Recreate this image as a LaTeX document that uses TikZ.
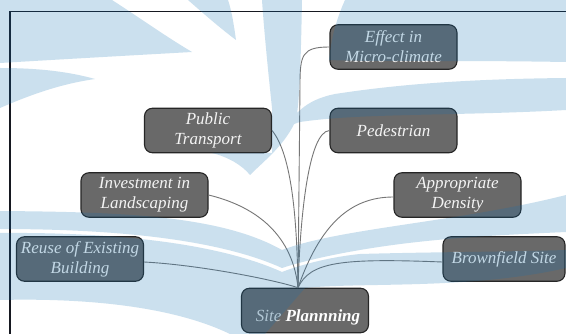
\documentclass[tikz,border=0pt]{standalone}
\usepackage{fontspec}
\setmainfont{Liberation Serif}
\definecolor{boxfill}{RGB}{105,105,105}
\definecolor{boxline}{RGB}{38,38,38}
\definecolor{linkgray}{RGB}{118,118,118}
\definecolor{boxtext}{RGB}{244,244,244}
\definecolor{sitegray}{RGB}{222,222,222}
\definecolor{wmblue}{RGB}{19,114,178}
\definecolor{framecol}{RGB}{22,24,32}
\begin{document}
\begin{tikzpicture}[x=1pt,y=-1pt,
  box/.style={draw=boxline, line width=1.1pt, fill=boxfill, rounded corners=8pt,
    minimum width=127pt, minimum height=44.5pt, inner xsep=0pt, inner ysep=2pt,
    align=center, text=boxtext, font=\rmfamily\fontsize{17}{20}\selectfont\itshape},
  link/.style={draw=linkgray, line width=0.9pt},
  frameline/.style={draw=framecol, line width=1.4pt},
  watermark/.style={fill=wmblue, fill opacity=0.22, draw=none}
]
\useasboundingbox (0,0) rectangle (566,334);
\clip (0,0) rectangle (566,334);
\fill[white] (0,0) rectangle (566,334);

% outer frame
\draw[frameline] (10,340) -- (10,11.7) -- (572,11.7);

% topic boxes
\node[box] (eff) at (393.5,47) {Effect in\\Micro-climate};
\node[box] (pub) at (208,130.5) {Public\\Transport};
\node[box] (ped) at (393.5,130.5) {Pedestrian};
\node[box] (inv) at (144.5,195) {Investment in\\Landscaping};
\node[box] (app) at (457.5,195) {Appropriate\\Density};
\node[box] (reu) at (80,259) {Reuse of Existing\\Building};
\node[box, minimum width=122pt] (bro) at (504,259) {Brownfield Site};
\node[box, text height=25pt, text depth=2pt] (site) at (305,310.5)
  {\hspace*{6pt}{\color{sitegray}Site} {\color{white}\bfseries Plannning}};

\coordinate (hub) at ([xshift=-7pt]site.north);

% connectors into the central box
\draw[link] (eff.west) .. controls (302,47) and (300,55) .. (300,85) -- (hub);
\draw[link] (pub.east) .. controls (292,155) and (297,220) .. (hub);
\draw[link] (ped.west) .. controls (308,132) and (300,220) .. (hub);
\draw[link] (inv.east) .. controls (250,205) and (292,230) .. (hub);
\draw[link] ([yshift=-3pt]reu.east) .. controls (200,265) and (275,280) .. (hub);
\draw[link] ([yshift=-2pt]app.west) .. controls (350,197) and (320,225) .. (hub);
\draw[link] ([yshift=-3pt]bro.west) .. controls (340,258) and (310,262) .. (hub);

% light blue emblem laid over the whole sheet
\fill[watermark]
  (0,0) -- (112,0) .. controls (140,18) and (165,36) .. (192,52)
        .. controls (120,56) and (50,60) .. (0,63) -- cycle
  (0,68) .. controls (40,68) and (70,72) .. (95,79)
        .. controls (60,84) and (30,95) .. (0,108) -- cycle
  (188,0) -- (228,0) .. controls (232,12) and (234,26) .. (236,40)
        .. controls (220,28) and (204,14) .. (188,0) -- cycle
  (262,0) -- (302,0) .. controls (301,50) and (300,100) .. (296,120)
        .. controls (285,145) and (265,160) .. (250,175)
        .. controls (242,165) and (228,157) .. (212,153) -- (272,153) -- (272,108)
        .. controls (268,70) and (264,30) .. (262,0) -- cycle
  (345,0) -- (566,0) -- (566,62) .. controls (450,60) and (380,62) .. (329,60)
        .. controls (331,40) and (336,20) .. (345,0) -- cycle
  (566,78) -- (566,110) .. controls (460,116) and (360,113) .. (300,122)
        .. controls (292,124) and (288,128) .. (284,134)
        .. controls (292,115) and (305,100) .. (335,94)
        .. controls (400,84) and (470,79) .. (566,78) -- cycle
  (0,211) .. controls (120,212) and (220,215) .. (282,250)
        .. controls (340,228) and (460,222) .. (566,195) -- (566,232)
        .. controls (500,235) and (430,238) .. (360,250)
        .. controls (330,255) and (300,262) .. (282,268)
        .. controls (220,240) and (120,229) .. (0,229) -- cycle
  (0,233) .. controls (120,232) and (220,244) .. (282,272)
        .. controls (300,265) and (330,257) .. (360,254)
        .. controls (430,252) and (500,252) .. (566,250) -- (566,268)
        .. controls (470,290) and (360,282) .. (305,288) -- (265,334) -- (230,334)
        .. controls (170,305) and (80,298) .. (0,300) -- cycle;
\end{tikzpicture}
\end{document}
